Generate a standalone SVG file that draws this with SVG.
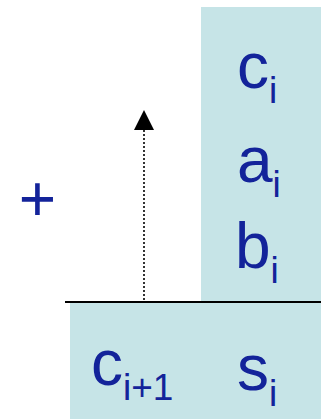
<svg xmlns="http://www.w3.org/2000/svg" width="321" height="419" viewBox="0 0 321 419">
<style>
.box{fill:#c6e4e7}
.t{font-family:"Liberation Sans",Arial,sans-serif;font-size:64px;fill:#13239a}
.s{font-size:37px}
</style>
<g id="top-box">
<rect class="box" x="201" y="7" width="120" height="295"/>
<text class="t" x="237" y="88">c<tspan class="s" dy="15">i</tspan></text>
<text class="t" x="237" y="182">a<tspan class="s" dy="15">i</tspan></text>
<text class="t" x="235" y="268">b<tspan class="s" dy="15">i</tspan></text>
</g>
<g id="bottom-box">
<rect class="box" x="70" y="302" width="251" height="117"/>
<text class="t" x="91" y="385">c<tspan class="s" dy="15">i+1</tspan></text>
<text class="t" x="237" y="390">s<tspan class="s" dy="16">i</tspan></text>
</g>
<g id="plus">
<text class="t" x="37.5" y="221" text-anchor="middle">+</text>
</g>
<g id="connectors">
<line x1="65" y1="302" x2="321" y2="302" stroke="#000" stroke-width="2"/>
<line x1="144" y1="300" x2="144" y2="130" stroke="#000" stroke-width="1.6" stroke-dasharray="2,2"/>
<path d="M134,130 L144,110 L154,130 Z" fill="#000"/>
</g>
</svg>
